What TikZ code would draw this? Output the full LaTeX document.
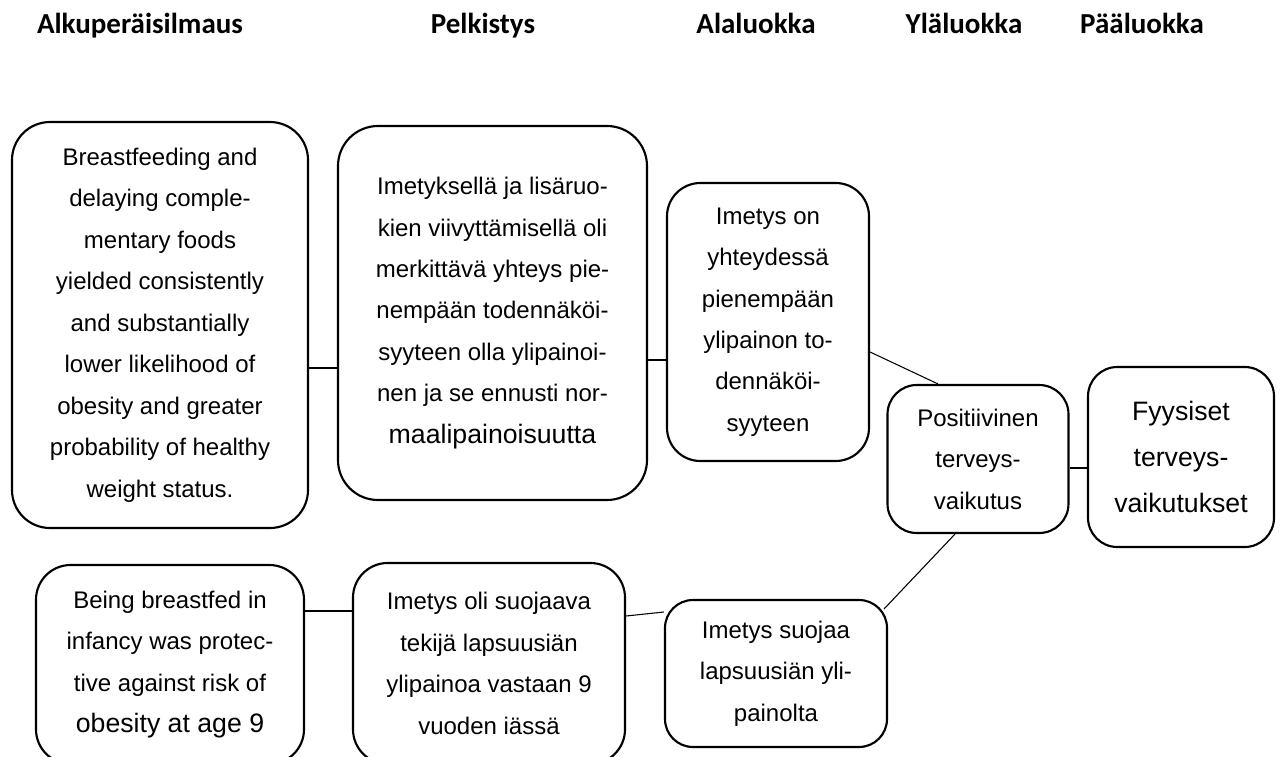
\documentclass[tikz,border=0pt]{standalone}
\usepackage{fontspec}
\setmainfont{Liberation Sans}
\newfontfamily\headfont{Carlito}
\newcommand\lgtxt{\fontsize{20}{31.1}\selectfont}

\begin{document}
\begin{tikzpicture}[
  x=0.75pt, y=-0.75pt,
  box/.style={rectangle, rounded corners=#1, draw=black, line width=1.6pt,
              align=center, inner sep=0pt, font=\fontsize{18}{31.1}\selectfont},
  box/.default=25pt,
  head/.style={anchor=base, font=\fontsize{21.75}{26}\selectfont\headfont\bfseries},
  link/.style={line width=0.8pt},
]
  \useasboundingbox (0,0) rectangle (1286,757);
  % column titles
  \node[head](hAlku) at (140,33){Alkuperäisilmaus};
  \node[head](hPelk) at (483,33){Pelkistys};
  \node[head](hAla) at (756,33){Alaluokka};
  \node[head](hYla) at (964,33){Yläluokka};
  \node[head](hPaa) at (1142,33){Pääluokka};
  % upper row
  \node[box=28.5pt, minimum width=222pt, minimum height=304.5pt](alku1) at (160,325)
    {Breastfeeding and\\delaying comple-\\mentary foods\\yielded consistently\\and substantially\\lower likelihood of\\obesity and greater\\probability of healthy\\weight status.};
  \node[box=30pt, minimum width=231.75pt, minimum height=280.5pt](pelk1) at (492.5,313)
    {Imetyksellä ja lisäruo-\\kien viivyttämisellä oli\\merkittävä yhteys pie-\\nempään todennäköi-\\syyteen olla ylipainoi-\\nen ja se ennusti nor-\\{\lgtxt maalipainoisuutta}};
  \node[box, minimum width=151.5pt, minimum height=208.5pt](ala1) at (768,322)
    {Imetys on\\yhteydessä\\pienempään\\ylipainon to-\\dennäköi-\\syyteen};
  % upper class and main class
  \node[box=22pt, minimum width=135.75pt, minimum height=111pt](yla) at (978,459)
    {Positiivinen\\terveys-\\vaikutus};
  \node[box=22pt, minimum width=139.5pt, minimum height=135pt,
        font=\fontsize{20}{34.5}\selectfont](paa) at (1181,457)
    {Fyysiset\\terveys-\\vaikutukset};
  % lower row, cut by the bottom edge
  \node[box=26pt, minimum width=201pt, minimum height=149.25pt](alku2) at (170,664.5)
    {Being breastfed in\\infancy was protec-\\tive against risk of\\{\lgtxt obesity at age 9}};
  \node[box=26pt, minimum width=204pt, minimum height=150.75pt](pelk2) at (489,663.5)
    {Imetys oli suojaava\\tekijä lapsuusiän\\ylipainoa vastaan 9\\vuoden iässä};
  \node[box=21pt, minimum width=166.5pt, minimum height=110.25pt](ala2) at (776,673.5)
    {Imetys suojaa\\lapsuusiän yli-\\painolta};
  % connectors
  \draw[link](alku1.east |- 0,368)--(pelk1.west |- 0,368);
  \draw[link](pelk1.east |- 0,360)--(ala1.west |- 0,360);
  \draw[link](ala1.east |- 0,352)--(938,0 |- yla.north);
  \draw[link](yla.east |- 0,468)--(paa.west |- 0,468);
  \draw[link](955,0 |- yla.south)--([shift={(-4,10)}]ala2.north east);
  \draw[link](alku2.east |- 0,611)--(pelk2.west |- 0,611);
  \draw[link](pelk2.east |- 0,616)--(ala2.west |- 0,612);
\end{tikzpicture}
\end{document}
